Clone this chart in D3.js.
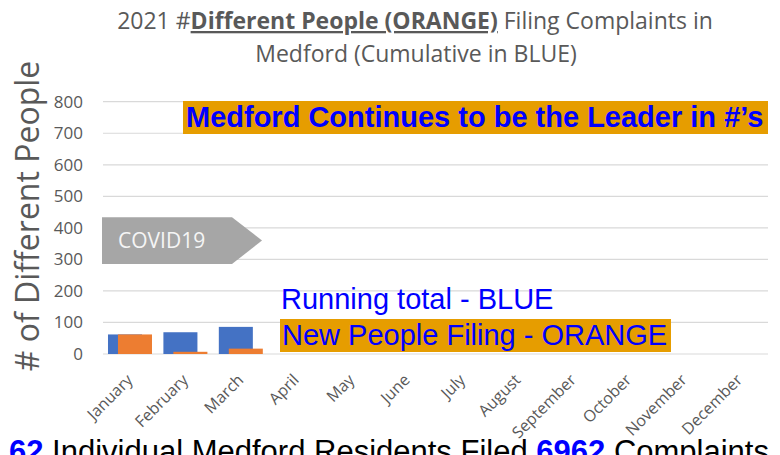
<!DOCTYPE html>
<html>
<head>
<meta charset="utf-8">
<script src="https://cdn.jsdelivr.net/npm/d3@7"></script>
<style>
  body { margin: 0; background: #fff; }
  svg { display: block; }
</style>
</head>
<body>
<div class="chart"></div>
<script>
// data
var months = ["January", "February", "March", "April", "May", "June", "July",
  "August", "September", "October", "November", "December"];
var runningTotal = [62, 69, 86];   // blue, cumulative
var newPeople = [62, 7, 17];       // orange, new people per month
var yTicks = [0, 100, 200, 300, 400, 500, 600, 700, 800];

var width = 780, height = 455;
var plotLeft = 103, plotRight = 768, plotBottom = 354, plotTop = 101.7;
var gray = "#595959";
var calibri = "'Open Sans', sans-serif";
var arial = "'Liberation Sans', Arial, sans-serif";

var svg = d3.select(".chart").append("svg")
  .attr("width", width).attr("height", height)
  .attr("viewBox", [0, 0, width, height]);

var x = d3.scaleBand().domain(months).range([plotLeft, plotRight]);
var y = d3.scaleLinear().domain([0, 800]).range([plotBottom, plotTop]);
var bw = x.bandwidth();

// gridlines
svg.append("g")
  .selectAll("line")
  .data(yTicks)
  .enter().append("line")
  .attr("x1", plotLeft).attr("x2", plotRight)
  .attr("y1", d => y(d)).attr("y2", d => y(d))
  .attr("stroke", "#d9d9d9").attr("stroke-width", 1.2);

// y axis labels
var yAxis = g => g
  .attr("transform", `translate(${plotLeft - 20},0)`)
  .call(d3.axisLeft(y).tickValues(yTicks).tickSize(0).tickPadding(0))
  .call(g => g.select(".domain").remove())
  .call(g => g.selectAll("text")
    .attr("fill", gray)
    .style("font-family", calibri)
    .style("font-size", "17px"));
svg.append("g").call(yAxis);

// x axis labels, rotated
svg.append("g")
  .selectAll("text")
  .data(months)
  .enter().append("text")
  .attr("transform", d => `translate(${x(d) + bw / 2 - 1},${plotBottom + 23}) rotate(-45)`)
  .attr("text-anchor", "end")
  .attr("dy", "0.35em")
  .attr("fill", gray)
  .style("font-family", calibri)
  .style("font-size", "16px")
  .text(d => d);

// covid arrow
var covid = [[plotLeft - 1, y(434)], [plotLeft + 129, y(434)], [plotLeft + 159, y(360)],
  [plotLeft + 129, y(285)], [plotLeft - 1, y(285)]];
svg.append("path")
  .attr("d", d3.line()(covid) + "Z")
  .attr("fill", "#a6a6a6");
svg.append("text")
  .attr("x", plotLeft + 15).attr("y", y(360) + 8)
  .attr("fill", "#f5f5f5")
  .style("font-family", calibri)
  .style("font-size", "21px")
  .text("COVID19");

// bars
var bars = [
  { name: "total", values: runningTotal, color: "#4472c4", offset: 0.09 },
  { name: "new", values: newPeople, color: "#ed7d31", offset: 0.27 }
];
bars.forEach(s => {
  svg.append("g")
    .selectAll("rect")
    .data(s.values)
    .enter().append("rect")
    .attr("x", (d, i) => x(months[i]) + bw * s.offset)
    .attr("y", d => y(d))
    .attr("width", bw * 0.614)
    .attr("height", d => y(0) - y(d))
    .attr("fill", s.color);
});

// title
var title = svg.append("text")
  .attr("x", 415).attr("y", 29)
  .attr("text-anchor", "middle")
  .attr("fill", gray)
  .style("font-family", calibri)
  .style("font-size", "23px");
title.append("tspan").text("2021 #");
title.append("tspan").attr("font-weight", "bold").attr("text-decoration", "underline")
  .text("Different People (ORANGE)");
title.append("tspan").text(" Filing Complaints in");
svg.append("text")
  .attr("x", 416).attr("y", 62)
  .attr("text-anchor", "middle")
  .attr("fill", gray)
  .style("font-family", calibri)
  .style("font-size", "23px")
  .text("Medford (Cumulative in BLUE)");

// y axis title
svg.append("text")
  .attr("transform", "translate(39,216) rotate(-90)")
  .attr("text-anchor", "middle")
  .attr("fill", gray)
  .style("font-family", calibri)
  .style("font-size", "32px")
  .text("# of Different People");

// banner
svg.append("rect")
  .attr("x", 183).attr("y", 101).attr("width", 585).attr("height", 33)
  .attr("fill", "#e69d00");
svg.append("text")
  .attr("x", 186).attr("y", 127)
  .attr("fill", "#0000ff")
  .attr("font-weight", "bold")
  .style("font-family", arial)
  .style("font-size", "29px")
  .text("Medford Continues to be the Leader in #\u2019s");

// legend notes
svg.append("text")
  .attr("x", 281).attr("y", 309)
  .attr("fill", "#0000ff")
  .style("font-family", arial)
  .style("font-size", "29px")
  .text("Running total - BLUE");
svg.append("rect")
  .attr("x", 280).attr("y", 319).attr("width", 391).attr("height", 33)
  .attr("fill", "#e69d00");
svg.append("text")
  .attr("x", 282).attr("y", 345)
  .attr("fill", "#0000ff")
  .style("font-family", arial)
  .style("font-size", "29px")
  .text("New People Filing - ORANGE");

// bottom caption
var cap = svg.append("text")
  .attr("x", 9).attr("y", 462)
  .attr("fill", "#000")
  .style("font-family", arial)
  .style("font-size", "31px");
cap.append("tspan").attr("fill", "#0000ff").attr("font-weight", "bold").text("62");
cap.append("tspan").text(" Individual Medford Residents Filed ");
cap.append("tspan").attr("fill", "#0000ff").attr("font-weight", "bold").text("6962");
cap.append("tspan").text(" Complaints");
</script>
</body>
</html>
